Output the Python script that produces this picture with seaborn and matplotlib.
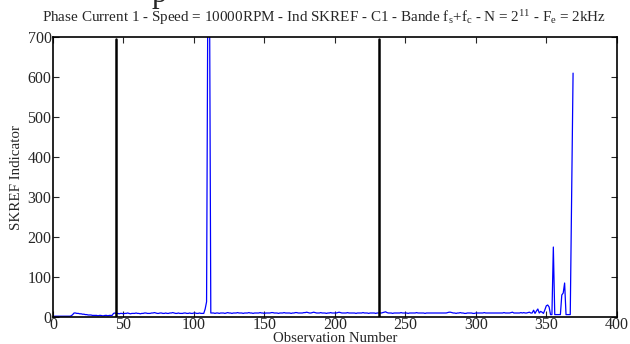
import numpy as np
import matplotlib
matplotlib.use("Agg")
import matplotlib.pyplot as plt
import seaborn as sns

# SKREF indicator per observation (obs 1..370)
skref = [
    2, 2, 2, 2, 2, 2, 2, 2, 2, 2, 2, 2, 3,
    6, 10, 10, 9, 9, 8, 8, 7, 7, 6, 6, 5, 5, 5, 4, 4,
    4, 4, 3, 4, 4, 3, 3, 4, 4, 3, 4, 4, 4,
    9, 10, 9, 9, 8, 9, 9, 8, 9, 9, 10, 9, 8, 9, 9, 9, 10, 9, 9, 8, 9, 9, 10, 10,
    9, 9, 9, 10, 10, 11, 10, 9, 9, 10, 10, 9, 9, 10, 9, 9, 10, 10, 11, 10, 9, 9,
    10, 9, 9, 9, 10, 10, 9, 9, 10, 9, 9, 10, 10, 9, 9, 10, 9, 9, 9,
    20, 38, 900, 900, 10,
    10, 10, 9, 10, 10, 9, 10, 10, 10, 9, 10, 11, 10, 10, 9, 10, 10, 10, 11, 10,
    10, 10, 9, 10, 10, 10, 11, 10, 10, 9, 10, 10, 10, 10, 11, 10, 10, 9, 10, 10,
    10, 10, 11, 11, 10, 10, 10, 9, 10, 10, 10, 11, 10, 10, 10, 10, 9, 10, 10, 11,
    11, 10, 10, 10, 10, 11, 11, 12, 11, 10, 10, 11, 12, 11, 10, 10, 10, 11, 10, 10,
    10, 9, 10, 10, 11, 10, 10, 10, 10, 11, 12, 11, 10, 10, 10, 10, 11, 10, 10, 10,
    10, 10, 9, 10, 10, 10, 10, 11, 10, 10, 10, 9, 10, 10, 10, 10, 9, 10, 10, 10,
    10, 11, 12, 13, 11, 10, 10, 10, 9, 10, 10, 10, 10, 10, 11, 10, 10, 10, 10, 9,
    10, 10, 10, 10, 10, 11, 10, 10, 10, 10, 10, 9, 10, 10, 10, 10, 10, 10, 10, 10,
    10, 10, 10, 10, 10, 10, 10, 11, 12, 12, 11, 10, 10, 9, 10, 10, 11, 10, 10, 9,
    9, 10, 10, 10, 10, 9, 9, 10, 10, 10, 10, 10, 10, 11, 10, 10, 10, 10, 10, 10,
    10, 10, 10, 10, 10, 10, 10, 11, 10, 10, 10, 10, 11, 12, 10, 10, 10, 10, 10, 11,
    10, 11, 10, 10, 11, 12, 10,
    10, 17, 9, 15, 20, 10, 14, 12, 9, 18, 28, 30, 25, 6, 6, 175, 6, 6, 6, 6, 6,
    55, 60, 85, 6, 6, 6, 6, 310, 610,
]
observation = np.arange(1, len(skref) + 1)

# vertical markers
limits = [45, 231]

x_ticks = [0, 50, 100, 150, 200, 250, 300, 350, 400]
y_ticks = [0, 100, 200, 300, 400, 500, 600, 700]

sns.set_style("ticks")
plt.rcParams["font.family"] = ["Liberation Serif", "DejaVu Serif"]
plt.rcParams["mathtext.fontset"] = "custom"
plt.rcParams["mathtext.rm"] = "Liberation Serif"
plt.rcParams["mathtext.it"] = "Liberation Serif"

fig = plt.figure(figsize=(6.3, 3.44), dpi=100)
ax = fig.add_axes([0.084, 0.0785, 0.895, 0.8135])

sns.lineplot(x=observation, y=skref, ax=ax, color="#0000ff", linewidth=0.9)
for xv in limits:
    ax.axvline(xv, ymax=0.993, color="black", linewidth=1.8)

ax.set_xlim(0, 400)
ax.set_ylim(0, 700)
ax.set_xticks(x_ticks)
ax.set_yticks(y_ticks)
ax.tick_params(direction="in", top=True, right=True, labelsize=11.5,
               length=4, width=0.8, pad=0)
ax.tick_params(axis="y", pad=1)
for sp in ax.spines.values():
    sp.set_visible(True)
    sp.set_linewidth(1.2)
    sp.set_color("black")

ax.set_xlabel("Observation Number", fontsize=10.6, labelpad=-0.5)
ax.set_ylabel("SKREF Indicator", fontsize=10.8, labelpad=3)
ax.set_title(r"Phase Current 1 - Speed = 10000RPM - Ind SKREF - C1 - Bande "
             r"f$_\mathrm{s}$+f$_\mathrm{c}$ - N = 2$^\mathrm{11}$ - "
             r"F$_\mathrm{e}$ = 2kHz", fontsize=10.9, pad=11, x=0.48)

# descender of a larger heading cut off at the top edge
fig.text(0.252, 0.994, "p", fontsize=22, ha="center", va="baseline")

fig.savefig("out.png", dpi=100)
